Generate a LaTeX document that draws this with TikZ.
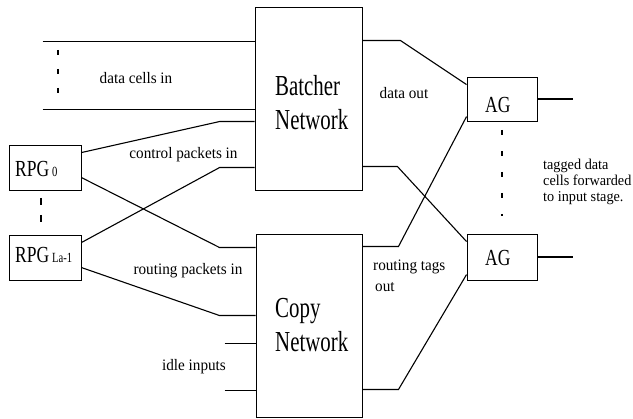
\documentclass[tikz,border=0pt]{standalone}
\usepackage{fontspec}
\usepackage{graphicx}
\setmainfont{Liberation Serif}
\usetikzlibrary{calc}
\newcommand{\sqb}[1]{\scalebox{0.72}[1]{#1}}
\newcommand{\sqm}[1]{\scalebox{0.76}[1]{#1}}
\newcommand{\sqs}[1]{\scalebox{0.95}[1]{#1}}
\begin{document}
\begin{tikzpicture}[x=1pt,y=-1pt,
  box/.style={draw, line width=0.9pt, inner sep=0pt},
  wire/.style={line width=1.1pt},
  dotsA/.style={line width=1.1pt, dash pattern=on 5pt off 14pt},
  dotsB/.style={line width=1.1pt, dash pattern=on 7pt off 10pt},
  dotsC/.style={line width=1.1pt, dash pattern=on 5pt off 16pt},
  big/.style={font=\fontsize{29}{34}\selectfont, inner sep=0pt, anchor=base west},
  mid/.style={font=\fontsize{23}{26}\selectfont, inner sep=0pt, anchor=base west},
  small/.style={font=\fontsize{16}{20}\selectfont, inner sep=0pt, anchor=base},
  smallw/.style={font=\fontsize{16}{20}\selectfont, inner sep=0pt, anchor=base west},
  tiny/.style={font=\fontsize{15}{16}\selectfont, inner sep=0pt, anchor=base west},
]
\useasboundingbox (0,0) rectangle (633,419);

% boxes
\node[box, minimum width=107pt, minimum height=183pt] (bat) at (308.5,98.5) {};
\node[box, minimum width=106pt, minimum height=183pt] (cop) at (309,325.5) {};
\node[box, minimum width=72pt, minimum height=45pt] (rpg0) at (45,167.5) {};
\node[box, minimum width=72pt, minimum height=45pt] (rpg1) at (45,257.5) {};
\node[box, minimum width=70pt, minimum height=44pt] (ag1) at (502,99) {};
\node[box, minimum width=70pt, minimum height=46pt] (ag2) at (502,257) {};

% box texts
\node[big] (battxt1) at (275,96) {\sqb{Batcher}};
\node[big] (battxt2) at (275,130) {\sqb{Network}};
\node[big] (coptxt1) at (275,318) {\sqb{Copy}};
\node[big] (coptxt2) at (275,352) {\sqb{Network}};
\node[mid] (rpg0txt) at (15,177) {\sqm{RPG\,{\fontsize{14}{14}\selectfont 0}}};
\node[mid] (rpg1txt) at (15,263) {\sqm{RPG\,{\fontsize{14}{14}\selectfont La-1}}};
\node[mid] (ag1txt) at (485,113) {\sqm{AG}};
\node[mid] (ag2txt) at (485,266) {\sqm{AG}};

% labels
\node[small] (l1) at (136,84) {\sqs{data cells in}};
\node[small] (l2) at (183.5,159) {\sqs{control packets in}};
\node[small] (l3) at (188,275) {\sqs{routing packets in}};
\node[small] (l4) at (194,371) {\sqs{idle inputs}};
\node[small] (l5) at (404,99) {\sqs{data out}};
\node[smallw] (l6a) at (373,271) {\sqs{routing tags}};
\node[smallw] (l6b) at (375,292) {\sqs{out}};
\node[tiny] (l7a) at (543,170) {\sqs{tagged data}};
\node[tiny] (l7b) at (543,186) {\sqs{cells forwarded}};
\node[tiny] (l7c) at (543,202) {\sqs{to input stage.}};

% port coordinates
\coordinate (bw1) at ($(bat.north west)+(0,35)$);
\coordinate (bw2) at ($(bat.north west)+(0,103)$);
\coordinate (bw3) at ($(bat.north west)+(0,115)$);
\coordinate (bw4) at ($(bat.north west)+(0,161)$);
\coordinate (be1) at ($(bat.north east)+(0,34)$);
\coordinate (be2) at ($(bat.north east)+(0,160)$);
\coordinate (cw1) at ($(cop.north west)+(0,14)$);
\coordinate (cw2) at ($(cop.north west)+(0,82)$);
\coordinate (cw3) at ($(cop.north west)+(0,110)$);
\coordinate (cw4) at ($(cop.north west)+(0,157)$);
\coordinate (ce1) at ($(cop.north east)+(0,13)$);
\coordinate (ce2) at ($(cop.north east)+(0,156)$);
\coordinate (a1w1) at ($(ag1.north west)+(0,8)$);
\coordinate (a1w2) at ($(ag1.north west)+(0,40)$);
\coordinate (a2w1) at ($(ag2.north west)+(0,8)$);
\coordinate (a2w2) at ($(ag2.north west)+(0,41)$);
\coordinate (r0a) at ($(rpg0.north east)+(0,8)$);
\coordinate (r0b) at ($(rpg0.north east)+(0,33)$);
\coordinate (r1a) at ($(rpg1.north east)+(0,8)$);
\coordinate (r1b) at ($(rpg1.north east)+(0,33)$);
% free ends
\coordinate (din1) at ($(bw1)+(-212,0)$);
\coordinate (din2) at ($(bw2)+(-212,0)$);
\coordinate (idle1) at ($(cw3)+(-31,0)$);
\coordinate (idle2) at ($(cw4)+(-31,0)$);
\coordinate (out1) at ($(ag1.east)+(36,0)$);
\coordinate (out2) at ($(ag2.east)+(36,0)$);

% wires
\draw[wire] (din1) -- (bw1);
\draw[wire] (din2) -- (bw2);
\draw[wire] (r0a) -- ([xshift=-35pt]bw3) -- (bw3);
\draw[wire] (r1a) -- ([xshift=-35pt]bw4) -- (bw4);
\draw[wire] (r0b) -- ([xshift=-36pt]cw1) -- (cw1);
\draw[wire] (r1b) -- ([xshift=-36pt]cw2) -- (cw2);
\draw[wire] (idle1) -- (cw3);
\draw[wire] (idle2) -- (cw4);
\draw[wire] (be1) -- ([xshift=38pt]be1) -- (a1w1);
\draw[wire] (be2) -- ([xshift=35pt]be2) -- (a2w1);
\draw[wire] (ce1) -- ([xshift=36pt]ce1) -- (a1w2);
\draw[wire] (ce2) -- ([xshift=36pt]ce2) -- (a2w2);
\draw[wire] (ag1.east) -- (out1);
\draw[wire] (ag2.east) -- (out2);

% ellipsis dashes
\draw[dotsA] (58,50) -- (58,95);
\draw[dotsB] (41,198) -- (41,223);
\draw[dotsC] (502,130) -- (502,216);
\end{tikzpicture}
\end{document}
